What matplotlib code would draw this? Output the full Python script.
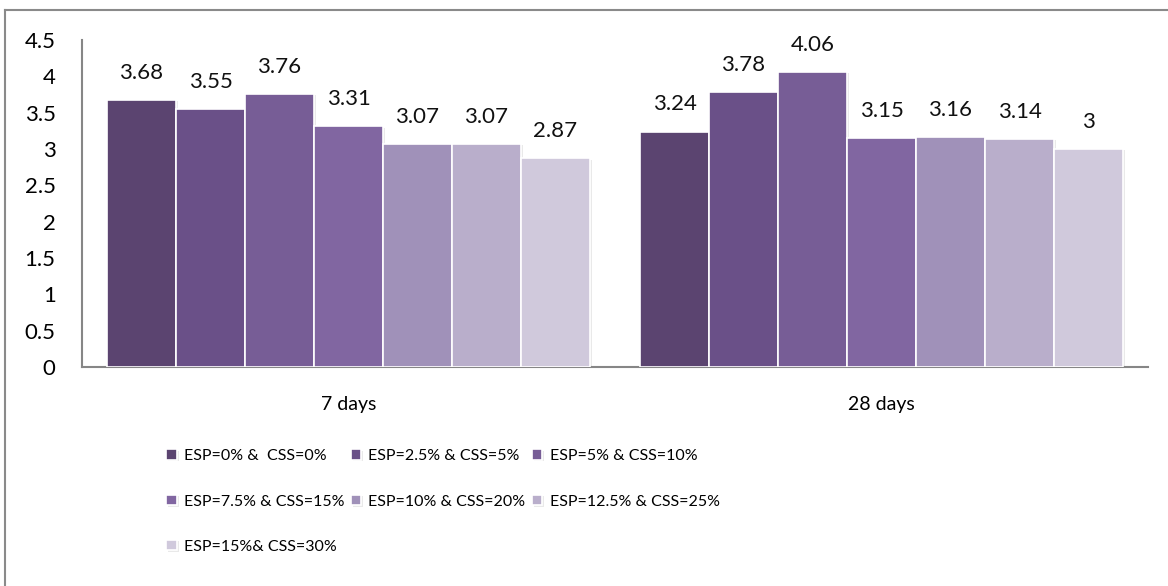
import numpy as np
import matplotlib
matplotlib.use("Agg")
import matplotlib.pyplot as plt
import matplotlib.patheffects as pe
from matplotlib.lines import Line2D

plt.rcParams['font.family'] = ['Lato', 'DejaVu Sans']

categories = ["7 days", "28 days"]
series_names = ["ESP=0% &  CSS=0%", "ESP=2.5% & CSS=5%", "ESP=5% & CSS=10%",
                "ESP=7.5% & CSS=15%", "ESP=10% & CSS=20%", "ESP=12.5% & CSS=25%",
                "ESP=15%& CSS=30%"]
values_7d = [3.68, 3.55, 3.76, 3.31, 3.07, 3.07, 2.87]
values_28d = [3.24, 3.78, 4.06, 3.15, 3.16, 3.14, 3.00]
colors = ["#5B4470", "#6A5088", "#775D96", "#8166A1", "#A091B9", "#B9AECB", "#D0C9DC"]
yticks = [0, 0.5, 1, 1.5, 2, 2.5, 3, 3.5, 4, 4.5]

fig = plt.figure(figsize=(11.68, 5.86), dpi=100)
ax = fig.add_axes([82/1168, 1 - 367/586, (1148-82)/1168, (367-40)/586])

x = np.arange(len(categories))
n = len(series_names)
bw = 0.906 / n
shadow = [pe.SimplePatchShadow(offset=(1.5, -1), alpha=0.18, shadow_rgbFace="#888888"), pe.Normal()]
handles = []
for i, name in enumerate(series_names):
    vals = [values_7d[i], values_28d[i]]
    pos = x - 0.453 + bw * (i + 0.5)
    bars = ax.bar(pos, vals, width=bw, color=colors[i], edgecolor="white",
                  linewidth=1.2, label=name, zorder=3)
    handles.append(bars)
    for b in bars:
        b.set_path_effects(shadow)
    for p, v in zip(pos, vals):
        lbl = f"{v:g}"
        ax.annotate(lbl, (p, v), xytext=(0, 19.5), textcoords="offset points",
                    ha="center", va="center", fontsize=16, color="#111111")

ax.set_xlim(-0.5, 1.5)
ax.set_ylim(0, 4.5)
ax.set_yticks(yticks)
ax.set_yticklabels([f"{t:g}" for t in yticks])
ax.set_xticks(x)
ax.set_xticklabels(categories)
ax.tick_params(axis="y", length=0, pad=19, labelsize=16)
ax.tick_params(axis="x", length=0, pad=21, labelsize=14)
for s in ["top", "right"]:
    ax.spines[s].set_visible(False)
for s in ["left", "bottom"]:
    ax.spines[s].set_color("#868686")
    ax.spines[s].set_linewidth(1.5)

# outer chart border
fig.add_artist(Line2D([5/1168, 1], [1 - 10/586, 1 - 10/586], color="#8a8a8a", lw=1.5,
                      transform=fig.transFigure))
fig.add_artist(Line2D([5/1168, 5/1168], [0, 1 - 10/586], color="#8a8a8a", lw=1.5,
                      transform=fig.transFigure))

# legend is filled column by column, so reorder to read row by row like the original
order = [0, 3, 6, 1, 4, 2, 5]
fig.legend([handles[k] for k in order], [series_names[k] for k in order],
           loc="upper left", bbox_to_anchor=(160/1168, 1 - 443/586), ncol=3,
           frameon=False, fontsize=11.5, handlelength=0.65, handleheight=0.65,
           handletextpad=0.45, columnspacing=0.4, labelspacing=1.95, borderaxespad=0)

fig.savefig("out.png", dpi=100, facecolor="white")
